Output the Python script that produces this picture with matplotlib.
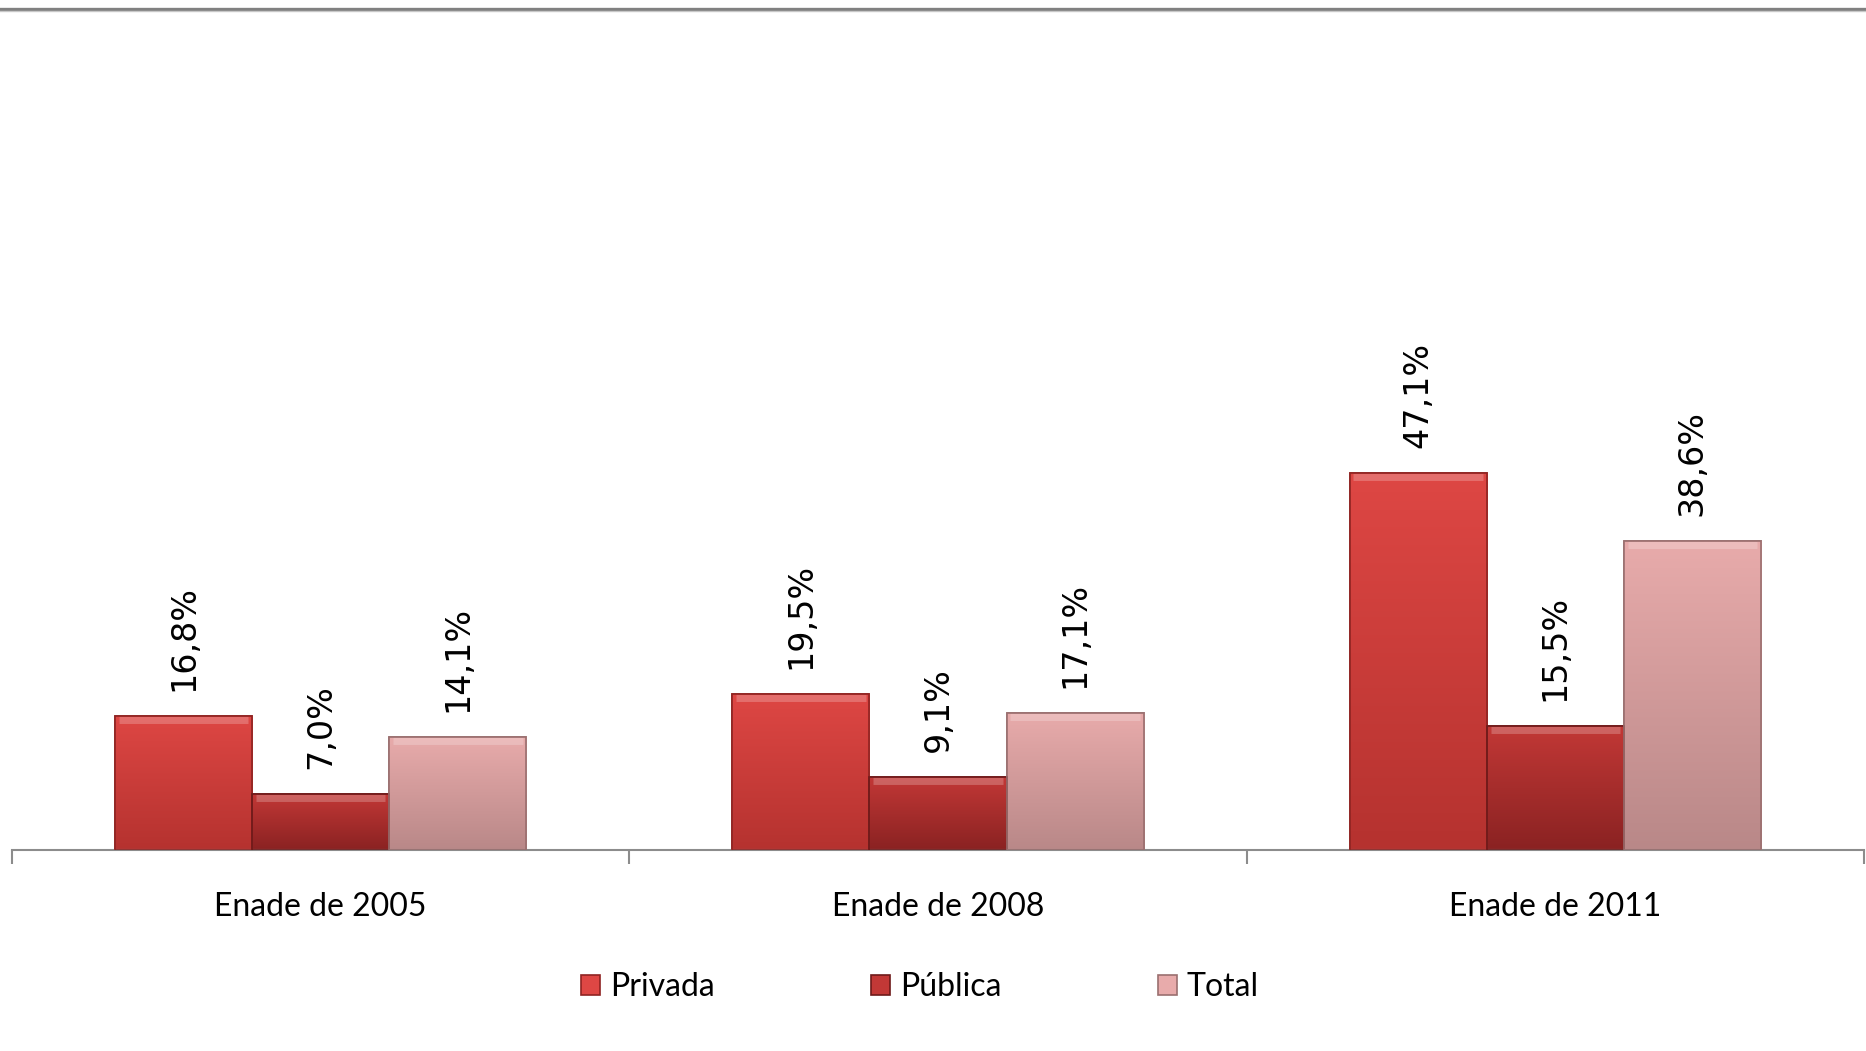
import numpy as np
import matplotlib.pyplot as plt
from matplotlib.lines import Line2D
from matplotlib.colors import LinearSegmentedColormap

categorias = ["Enade de 2005", "Enade de 2008", "Enade de 2011"]
series = ["Privada", "Pública", "Total"]
privada = [16.8, 19.5, 47.1]
publica = [7.0, 9.1, 15.5]
total = [14.1, 17.1, 38.6]
valores = [privada, publica, total]

# (top, bottom, edge) colours per series
cores = [("#de4744", "#b5322f", "#8f2422"),
         ("#c23836", "#8a2222", "#6e1a1a"),
         ("#e8abab", "#b98888", "#9a6f6f")]

plt.rcParams['font.family'] = ['DejaVu Sans']
fonte_cat = ["Lato", "DejaVu Sans"]

fig = plt.figure(figsize=(18.66, 10.51), dpi=100)
fig.patch.set_facecolor("white")
ax = fig.add_axes([12/1866, 1 - 850/1051, 1852/1866, 800/1051])

x = np.arange(len(categorias))
w = 0.222

for i, (nome, vals) in enumerate(zip(series, valores)):
    top, bot, edge = cores[i]
    bars = ax.bar(x + (i - 1) * w, vals, w, color=top, edgecolor=edge,
                  linewidth=1.2, label=nome, zorder=2)
    cmap = LinearSegmentedColormap.from_list("g%d" % i, [bot, top])
    grad = np.linspace(0, 1, 256).reshape(-1, 1)
    for b in bars:
        x0, y0 = b.get_x(), b.get_y()
        im = ax.imshow(grad, cmap=cmap, aspect="auto", origin="lower",
                       extent=[x0, x0 + b.get_width(), y0, y0 + b.get_height()],
                       zorder=2.5)
        im.set_clip_path(b)
        # soft bevel on top
        ax.plot([x0 + 0.006, x0 + b.get_width() - 0.006],
                [y0 + b.get_height() - 0.5] * 2, color="white", alpha=0.22,
                lw=5, zorder=3, solid_capstyle="butt")
        ax.bar(b.get_x() + b.get_width() / 2, b.get_height(), b.get_width(),
               fill=False, edgecolor=edge, linewidth=1.2, zorder=3.5)
    for xi, v in zip(x + (i - 1) * w, vals):
        ax.annotate(("%.1f%%" % v).replace(".", ","), (xi, v),
                    xytext=(0, 18), textcoords="offset points",
                    rotation=90, ha="center", va="bottom", fontsize=24,
                    color="black")

ax.set_xlim(-0.5, 2.5)
ax.set_ylim(0, 100)
ax.set_yticks([])
for s in ["top", "right", "left"]:
    ax.spines[s].set_visible(False)
ax.spines["bottom"].set_color("#8c8c8c")
ax.spines["bottom"].set_linewidth(1.5)
ax.set_xticks(x)
ax.set_xticklabels(categorias, fontsize=23, family=fonte_cat)
ax.tick_params(axis="x", which="major", length=0, pad=30)
ax.set_xticks([-0.5, 0.5, 1.5, 2.5], minor=True)
ax.tick_params(axis="x", which="minor", length=10, width=1.5, color="#8c8c8c")
ax.set_facecolor("none")

leg = fig.legend(loc="center", bbox_to_anchor=(0.493, 1 - 987/1051), ncol=3,
                 frameon=False, handlelength=0.6, handleheight=0.6,
                 handletextpad=0.3, columnspacing=4.9,
                 prop={"family": fonte_cat, "size": 23})

# header rule at the top of the slide
fig.add_artist(Line2D([0, 1], [1 - 8.5/1051] * 2, color="#808080", lw=2.4,
                      transform=fig.transFigure))
fig.add_artist(Line2D([0, 1], [1 - 11/1051] * 2, color="#c8c8c8", lw=1,
                      transform=fig.transFigure))

fig.savefig("out.png", dpi=100)
